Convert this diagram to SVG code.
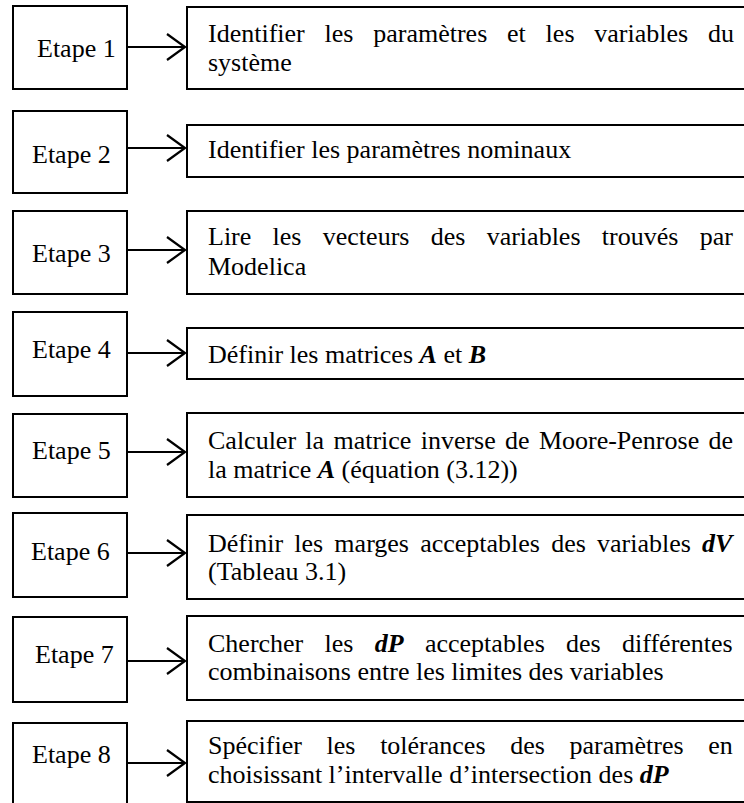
<svg xmlns="http://www.w3.org/2000/svg" width="744" height="803" viewBox="0 0 744 803">
<style>
.box{fill:#fff;stroke:#000;stroke-width:2}
text{font-family:"Liberation Serif","Times New Roman",serif;font-size:26px;fill:#000}
.bi{font-weight:bold;font-style:italic}
.conn line{stroke:#000;stroke-width:2;marker-end:url(#arr)}
</style>
<defs>
<marker id="arr" markerUnits="userSpaceOnUse" viewBox="-21 -16 23 32" markerWidth="23" markerHeight="32" refX="0" refY="0" orient="auto">
<path d="M-18,-13 L0,0 L-18,13" fill="none" stroke="#000" stroke-width="2.2"/>
</marker>
</defs>
<rect width="744" height="803" fill="#fff"/>

<g id="etape1"><rect class="box" x="13" y="6" width="114" height="83"/><text x="37" y="57">Etape 1</text></g>
<g id="etape2"><rect class="box" x="13" y="111" width="114" height="82"/><text x="32" y="163">Etape 2</text></g>
<g id="etape3"><rect class="box" x="13" y="211" width="114" height="83"/><text x="32" y="262">Etape 3</text></g>
<g id="etape4"><rect class="box" x="13" y="312" width="114" height="84"/><text x="32" y="358">Etape 4</text></g>
<g id="etape5"><rect class="box" x="13" y="414" width="114" height="83"/><text x="32" y="459">Etape 5</text></g>
<g id="etape6"><rect class="box" x="13" y="513" width="114" height="84"/><text x="31" y="560">Etape 6</text></g>
<g id="etape7"><rect class="box" x="13" y="617" width="114" height="85"/><text x="35" y="663">Etape 7</text></g>
<g id="etape8"><rect class="box" x="13" y="723" width="114" height="100"/><text x="32" y="763">Etape 8</text></g>

<g id="step1"><rect class="box" x="187" y="7" width="580" height="82"/>
<text x="208" y="42" style="word-spacing:13.3px">Identifier les paramètres et les variables du</text>
<text x="208" y="71">système</text></g>
<g id="step2"><rect class="box" x="187" y="125" width="580" height="52"/>
<text x="208" y="158">Identifier les paramètres nominaux</text></g>
<g id="step3"><rect class="box" x="187" y="211" width="580" height="83"/>
<text x="208" y="245" style="word-spacing:14.8px">Lire les vecteurs des variables trouvés par</text>
<text x="208" y="275">Modelica</text></g>
<g id="step4"><rect class="box" x="187" y="328" width="580" height="51"/>
<text x="208" y="363">Définir les matrices <tspan class="bi">A</tspan> et <tspan class="bi">B</tspan></text></g>
<g id="step5"><rect class="box" x="187" y="413" width="580" height="84"/>
<text x="208" y="449" style="word-spacing:2.8px">Calculer la matrice inverse de Moore-Penrose de</text>
<text x="208" y="478">la matrice <tspan class="bi">A</tspan> (équation (3.12))</text></g>
<g id="step6"><rect class="box" x="187" y="515" width="580" height="84"/>
<text x="208" y="552" style="word-spacing:4.7px">Définir les marges acceptables des variables <tspan class="bi">dV</tspan></text>
<text x="208" y="580">(Tableau 3.1)</text></g>
<g id="step7"><rect class="box" x="187" y="616" width="580" height="84"/>
<text x="208" y="652" style="word-spacing:14.8px">Chercher les <tspan class="bi">dP</tspan> acceptables des différentes</text>
<text x="208" y="680">combinaisons entre les limites des variables</text></g>
<g id="step8"><rect class="box" x="187" y="721" width="580" height="81"/>
<text x="208" y="754" style="word-spacing:18.2px">Spécifier les tolérances des paramètres en</text>
<text x="208" y="783">choisissant l’intervalle d’intersection des <tspan class="bi">dP</tspan></text></g>

<g id="connectors" class="conn">
<line x1="128" y1="47" x2="185" y2="47"/>
<line x1="128" y1="148" x2="185" y2="148"/>
<line x1="128" y1="250" x2="185" y2="250"/>
<line x1="128" y1="353" x2="185" y2="353"/>
<line x1="128" y1="452" x2="185" y2="452"/>
<line x1="128" y1="553" x2="185" y2="553"/>
<line x1="128" y1="661" x2="185" y2="661"/>
<line x1="128" y1="763" x2="185" y2="763"/>
</g>
</svg>
